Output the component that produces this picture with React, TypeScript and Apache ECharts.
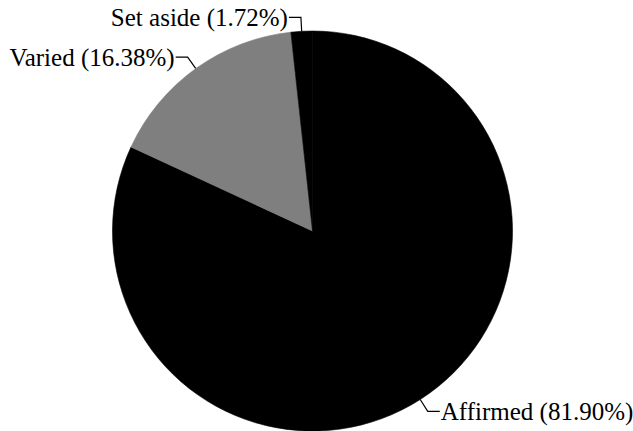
import React, { useEffect, useRef } from "react";
import * as echarts from "echarts";

const categories = ["Affirmed", "Varied", "Set aside"];
const counts = [95, 19, 2];
const colors = ["#000000", "#7f7f7f", "#000000"];

const FONT = "'Liberation Serif', 'Times New Roman', serif";

export default function App() {
  const ref = useRef<HTMLDivElement>(null);
  useEffect(() => {
    if (!ref.current) return;
    const chart = echarts.init(ref.current, null, { renderer: "svg" });
    const total = counts.reduce((a, b) => a + b, 0);
    chart.setOption({
      animation: false,
      backgroundColor: "#ffffff",
      textStyle: { fontFamily: FONT, fontSize: 25 },
      series: [
        {
          type: "pie",
          center: [312.5, 231],
          radius: [0, 200],
          startAngle: 90,
          clockwise: true,
          avoidLabelOverlap: false,
          minShowLabelAngle: 0,
          data: categories.map((c, i) => ({
            name: c,
            value: counts[i],
            itemStyle: { color: colors[i], borderColor: colors[i], borderWidth: 0.6 },
          })),
          label: {
            show: true,
            position: "outside",
            formatter: (p: any) =>
              `${p.name} (${((p.value / total) * 100).toFixed(2)}%)`,
            color: "#000",
            fontFamily: FONT,
            fontSize: 25,
            padding: [10, 0, 0, 0],
            distanceToLabelLine: 1,
          },
          labelLine: {
            show: true,
            length: 14,
            length2: 12,
            lineStyle: { color: "#000", width: 1.2 },
          },
          emphasis: { disabled: true },
        },
      ],
    });
    return () => chart.dispose();
  }, []);
  return (
    <div
      ref={ref}
      style={{ position: "fixed", left: 0, top: 0, width: 633, height: 431 }}
    />
  );
}
